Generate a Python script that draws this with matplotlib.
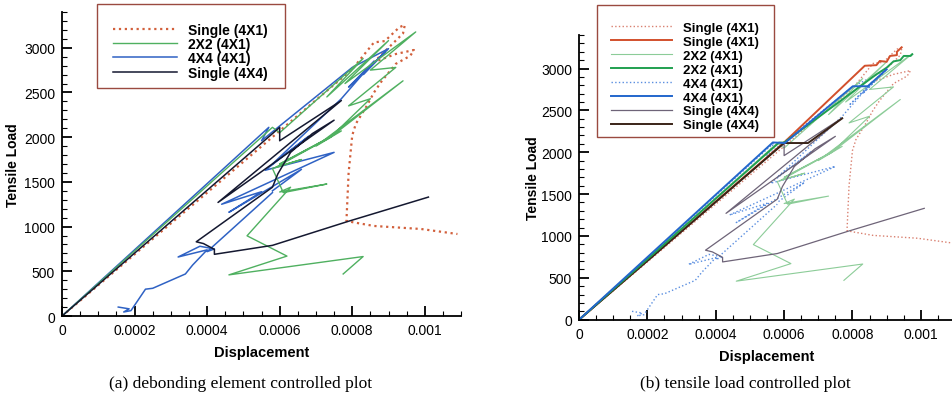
import numpy as np
import matplotlib.pyplot as plt
from matplotlib.ticker import MultipleLocator, FuncFormatter
from matplotlib.patches import Rectangle

plt.rcParams['font.family'] = ['Liberation Sans', 'DejaVu Sans']

nan = np.nan

# debonding element controlled runs (displacement, tensile load)
single41_x = [0, 0.00060, 0.00080, 0.00086, 0.00089, 0.00093, 0.000945, 0.00094, 0.00091, 0.00086,
              0.00092, 0.00097, 0.00096, 0.00092, 0.00088, 0.00086, 0.00084, 0.00081, 0.00080,
              0.00079, 0.000784, 0.00080, 0.00086, 0.00099, 0.00109]
single41_y = [0, 2070, 2760, 3060, 3075, 3230, 3255, 3160, 3040, 2840,
              2930, 2975, 2910, 2820, 2620, 2500, 2350, 2150, 2020,
              1600, 1063, 1050, 1007, 973, 917]

grid22_x = [0, 0.00058, 0.00060, 0.00083, 0.00073, 0.00090, 0.00078, 0.000975, 0.00085, 0.00092,
            0.00079, 0.00085, 0.00074, 0.00094, 0.00070, 0.00077, 0.00060, 0.00074, 0.00059,
            0.00066, 0.00058, 0.00061, 0.00073, 0.00060, 0.00063, 0.00051, 0.00062, 0.00046,
            0.00083, 0.000775]
grid22_y = [0, 2110, 2050, 2880, 2450, 3080, 2600, 3177, 2750, 2780,
            2350, 2430, 2000, 2630, 1900, 2070, 1700, 2000, 1665,
            1750, 1650, 1380, 1476, 1387, 1440, 897, 670, 460,
            665, 470]

grid44_x = [0, 0.00057, 0.00055, 0.00058, 0.00080, 0.00090, 0.00083, 0.00089, 0.00079, 0.00086,
            0.00077, 0.00058, 0.00068, 0.00056, 0.00075, 0.00044, 0.00055, 0.00046, 0.00066,
            0.00058, nan, 0.000155, 0.000185, 0.00017, 0.00019, 0.00023, 0.00025, 0.00034,
            0.00036, 0.00040, 0.00032, 0.00038, 0.00042, 0.00040, 0.00058]
grid44_y = [0, 2110, 1960, 2060, 2780, 2990, 2700, 2950, 2560, 2850,
            2430, 1700, 2010, 1630, 1830, 1250, 1390, 1160, 1640,
            1400, nan, 100, 80, 45, 60, 300, 310, 470,
            570, 740, 660, 780, 750, 720, 1380]

single44_x = [0, 0.00060, 0.00060, 0.00077, 0.00043, 0.00075, 0.00069, 0.00063, 0.000595, 0.00058,
              0.00037, 0.00039, 0.00042, 0.00042, 0.00058, 0.00079, 0.00101]
single44_y = [0, 2110, 1960, 2410, 1270, 2190, 2040, 1830, 1590, 1440,
              830, 810, 745, 690, 790, 1060, 1330]

# tensile load controlled runs
t_single41_x = [0, 0.00060, 0.000836, 0.00087, 0.00088, 0.00090, 0.00091, 0.00093, 0.00093, 0.000944]
t_single41_y = [0, 2117, 3033, 3040, 3090, 3080, 3150, 3160, 3200, 3253]
t_grid22_x = [0, 0.000585, 0.00060, 0.00083, 0.00087, 0.00090, 0.00092, 0.00094, 0.00095, 0.00097, 0.000975]
t_grid22_y = [0, 2115, 2115, 2810, 2930, 3010, 3085, 3100, 3150, 3150, 3170]
t_grid44_x = [0, 0.000567, 0.000602, 0.000801, 0.000845, 0.00090]
t_grid44_y = [0, 2117, 2110, 2788, 2788, 2990]
t_single44_x = [0, 0.00060, 0.00067, 0.00077]
t_single44_y = [0, 2110, 2110, 2405]

labels4 = ['Single (4X1)', '2X2 (4X1)', '4X4 (4X1)', 'Single (4X4)']


def style_axes(ax):
    ax.set_xlim(0, 0.0011)
    ax.set_ylim(0, 3400)
    ax.spines[['top', 'right']].set_visible(False)
    ax.spines[['left', 'bottom']].set_linewidth(1.3)
    ax.xaxis.set_major_locator(MultipleLocator(0.0002))
    ax.xaxis.set_minor_locator(MultipleLocator(0.00005))
    ax.yaxis.set_major_locator(MultipleLocator(500))
    ax.yaxis.set_minor_locator(MultipleLocator(100))
    ax.xaxis.set_major_formatter(FuncFormatter(lambda v, p: '%g' % round(v, 6)))
    ax.tick_params(which='major', direction='in', length=7, width=1.3, labelsize=10, pad=5)
    ax.tick_params(which='minor', direction='in', length=3.5, width=0.8)
    ax.set_xlabel('Displacement', fontsize=10.5, fontweight='bold', labelpad=6)
    ax.set_ylabel('Tensile Load', fontsize=10, fontweight='bold', labelpad=3)


fig = plt.figure(figsize=(9.53, 4.06), dpi=100)
ax1 = fig.add_axes([0.0651, 0.2192, 0.4187, 0.7488])
ax2 = fig.add_axes([0.6076, 0.2101, 0.3945, 0.7012])

# (a) debonding element controlled
h1, = ax1.plot(single41_x, single41_y, ':', color='#d2603c', lw=1.6)
h3, = ax1.plot(grid44_x, grid44_y, '-', color='#2f62c4', lw=1.1)
h2, = ax1.plot(grid22_x, grid22_y, '-', color='#4fb060', lw=1.0)
h4, = ax1.plot(single44_x, single44_y, '-', color='#141830', lw=1.1)
style_axes(ax1)
ax1.legend([h1, h2, h3, h4], labels4, loc='upper left', bbox_to_anchor=(0.0965, 0.993),
           bbox_transform=fig.transFigure, frameon=False, prop={'weight': 'bold', 'size': 10},
           handlelength=4.6, handletextpad=0.8, labelspacing=0.02, borderpad=1.0)
fig.patches.append(Rectangle((97 / 953, 1 - 89 / 406), 188 / 953, 84 / 406,
                             transform=fig.transFigure, fill=False, ec='#9a4a40', lw=1.0))

# (b) tensile load controlled
g1, = ax2.plot(single41_x, single41_y, ':', color='#d98070', lw=1.0)
g5, = ax2.plot(grid44_x, grid44_y, ':', color='#5a8ee0', lw=1.0)
g3, = ax2.plot(grid22_x, grid22_y, '-', color='#8ccc98', lw=0.8)
g7, = ax2.plot(single44_x, single44_y, '-', color='#6e6478', lw=0.9)
g2, = ax2.plot(t_single41_x, t_single41_y, '-', color='#d2502c', lw=1.4)
g8, = ax2.plot(t_single44_x, t_single44_y, '-', color='#3a2418', lw=1.4)
g4, = ax2.plot(t_grid22_x, t_grid22_y, '-', color='#20a050', lw=1.4)
g6, = ax2.plot(t_grid44_x, t_grid44_y, '-', color='#2366cc', lw=1.4)
style_axes(ax2)
ax2.set_ylabel('Tensile Load', fontsize=10, fontweight='bold', labelpad=1)
labels8 = [labels4[0], labels4[0], labels4[1], labels4[1], labels4[2], labels4[2], labels4[3], labels4[3]]
ax2.legend([g1, g2, g3, g4, g5, g6, g7, g8], labels8, loc='upper left', bbox_to_anchor=(0.6222, 0.99),
           bbox_transform=fig.transFigure, frameon=False, prop={'weight': 'bold', 'size': 9.5},
           handlelength=4.6, handletextpad=0.8, labelspacing=0.13, borderpad=0.9)
fig.patches.append(Rectangle((597 / 953, 1 - 138 / 406), 177 / 953, 132 / 406,
                             transform=fig.transFigure, fill=False, ec='#9a4a40', lw=1.0))

fig.text(0.252, 0.054, '(a) debonding element controlled plot', ha='center', va='center',
         family='Liberation Serif', fontsize=12.5)
fig.text(0.782, 0.054, '(b) tensile load controlled plot', ha='center', va='center',
         family='Liberation Serif', fontsize=12.5)

fig.savefig('out.png', dpi=100)
